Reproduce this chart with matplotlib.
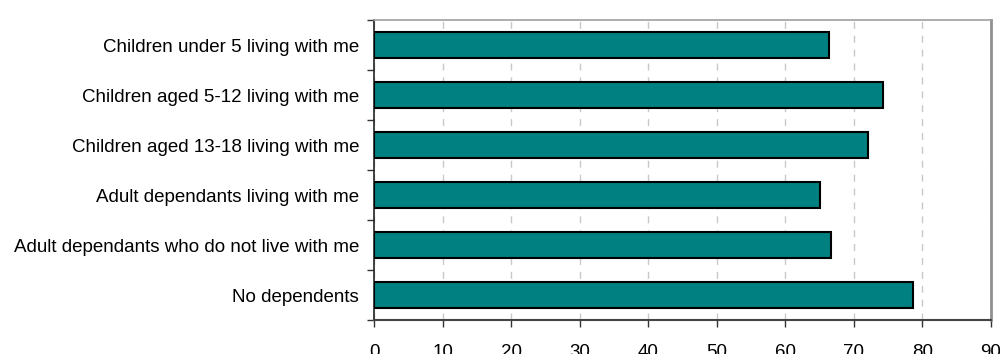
import matplotlib
matplotlib.use("Agg")
import matplotlib.pyplot as plt
import numpy as np

categories = [
    "Children under 5 living with me",
    "Children aged 5-12 living with me",
    "Children aged 13-18 living with me",
    "Adult dependants living with me",
    "Adult dependants who do not live with me",
    "No dependents",
]
values = [66.3, 74.3, 72.1, 65.0, 66.7, 78.6]
xticks = [0, 10, 20, 30, 40, 50, 60, 70, 80, 90]

plt.rcParams['font.family'] = ['Liberation Sans', 'DejaVu Sans']

fig = plt.figure(figsize=(10, 3.54), dpi=100)
ax = fig.add_axes([0.3743, 0.096, 0.6167, 0.8475])

y = np.arange(len(categories))
ax.barh(y, values, height=0.52, color="#008080", edgecolor="black", linewidth=1.5, zorder=3)

ax.set_xlim(0, 90)
ax.set_ylim(len(categories) - 0.5, -0.5)
ax.set_xticks(xticks)
ax.set_xticklabels([str(t) for t in xticks], fontsize=13.5)
ax.set_yticks(y)
ax.set_yticklabels(categories, fontsize=13.5)
ax.tick_params(axis='y', length=0, pad=11)
ax.set_yticks(np.arange(len(categories) + 1) - 0.5, minor=True)
ax.tick_params(axis='y', which='minor', length=5, width=1, color='#333333', direction='out')
ax.tick_params(axis='x', length=5, width=1, color='#333333', direction='out', pad=12)

ax.xaxis.grid(True, linestyle=(0, (5, 5)), color='#c8c8c8', linewidth=1, zorder=0)
ax.set_axisbelow(True)

ax.spines['left'].set_color('#222222')
ax.spines['left'].set_linewidth(1.2)
ax.spines['bottom'].set_color('#444444')
ax.spines['bottom'].set_linewidth(1.5)
ax.spines['top'].set_color('#a0a0a0')
ax.spines['top'].set_linewidth(1.2)
ax.spines['right'].set_color('#909090')
ax.spines['right'].set_linewidth(2)

fig.savefig("out.png", dpi=100)
